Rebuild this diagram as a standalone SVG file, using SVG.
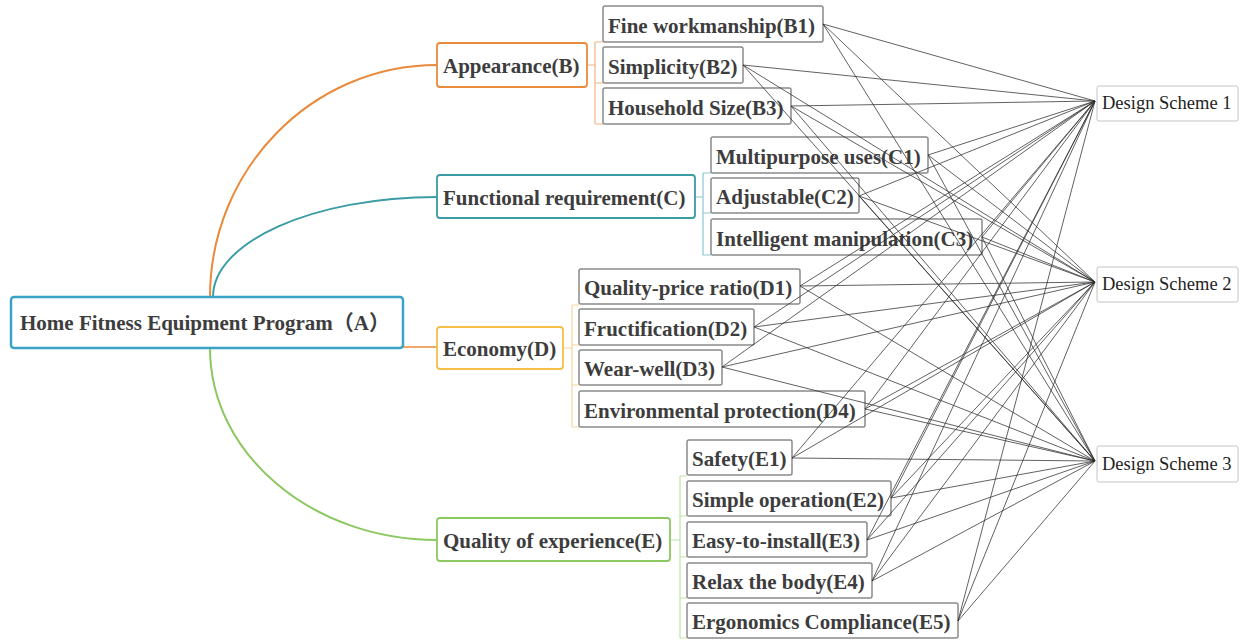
<svg xmlns="http://www.w3.org/2000/svg" width="1243" height="640" viewBox="0 0 1243 640">
<style>
.bg{fill:#ffffff}
.leaf{fill:#ffffff;stroke:#8a8a8a;stroke-width:1.5}
.t{font-family:"Liberation Serif","Noto Sans CJK SC",serif;font-weight:bold;font-size:21px;fill:#3d3d3d}
.ds{fill:#ffffff;stroke:#c4c4c4;stroke-width:1}
.dt{font-family:"Liberation Serif",serif;font-size:18.5px;fill:#1e1e1e}
.conn line{stroke:#2e2e2e;stroke-width:0.75}
.curve{fill:none;stroke-width:2}
.br{fill:none;stroke-width:1.2}
</style>
<rect class="bg" x="0" y="0" width="1243" height="640"/>

<g id="branch-links">
<path class="curve" d="M210,297 C210,169 312,65 437,65" stroke="#e98a3c"/>
<path class="curve" d="M213,297 C213,242 313,197 437,197" stroke="#3a9ca4"/>
<path class="curve" d="M403,347 H437" stroke="#f0a868"/>
<path class="curve" d="M210,348 C210,454 312,540 437,540" stroke="#8cc860"/>
<path class="br" stroke="#f0b482" d="M587,65 H595 M595,42 V124 M595,42 H603 M595,83 H603 M595,124 H603"/>
<path class="br" stroke="#8cc6cc" d="M695,197 H703 M703,173 V255 M703,173 H711 M703,213 H711 M703,255 H711"/>
<path class="br" stroke="#f5d6a0" d="M563,348 H572 M572,305 V427 M572,305 H579 M572,345 H579 M572,385 H579 M572,427 H579"/>
<path class="br" stroke="#bfe2a8" d="M670,540 H680 M680,476 V638 M680,476 H687 M680,516 H687 M680,557 H687 M680,598 H687 M680,638 H687"/>
</g>

<g id="A">
<rect x="11" y="297" width="392" height="51" rx="3" fill="#ffffff" stroke="#3aa2c6" stroke-width="2.5"/>
<text class="t" x="20" y="330">Home Fitness Equipment Program（A）</text>
</g>

<g id="B">
<rect x="437" y="43" width="150" height="44" rx="3" fill="#ffffff" stroke="#e98a3c" stroke-width="1.8"/>
<text class="t" x="443" y="73">Appearance(B)</text>
</g>
<g id="C">
<rect x="437" y="175" width="258" height="43" rx="3" fill="#ffffff" stroke="#3a9ca4" stroke-width="1.8"/>
<text class="t" x="443" y="205">Functional requirement(C)</text>
</g>
<g id="D">
<rect x="437" y="327" width="126" height="42" rx="3" fill="#ffffff" stroke="#f3bf4a" stroke-width="1.8"/>
<text class="t" x="443" y="356">Economy(D)</text>
</g>
<g id="E">
<rect x="437" y="518" width="233" height="43" rx="3" fill="#ffffff" stroke="#8cc860" stroke-width="1.8"/>
<text class="t" x="443" y="548">Quality of experience(E)</text>
</g>

<g id="B1"><rect class="leaf" x="603" y="6" width="220" height="36" rx="2"/><text class="t" x="608" y="33">Fine workmanship(B1)</text></g>
<g id="B2"><rect class="leaf" x="603" y="47" width="140" height="36" rx="2"/><text class="t" x="608" y="74">Simplicity(B2)</text></g>
<g id="B3"><rect class="leaf" x="603" y="88" width="188" height="36" rx="2"/><text class="t" x="608" y="115">Household Size(B3)</text></g>

<g id="C1"><rect class="leaf" x="711" y="137" width="217" height="36" rx="2"/><text class="t" x="716" y="164">Multipurpose uses(C1)</text></g>
<g id="C2"><rect class="leaf" x="711" y="178" width="148" height="35" rx="2"/><text class="t" x="716" y="204">Adjustable(C2)</text></g>
<g id="C3"><rect class="leaf" x="711" y="219" width="271" height="36" rx="2"/><text class="t" x="716" y="246">Intelligent manipulation(C3)</text></g>

<g id="D1"><rect class="leaf" x="579" y="269" width="221" height="35" rx="2"/><text class="t" x="584" y="295">Quality-price ratio(D1)</text></g>
<g id="D2"><rect class="leaf" x="579" y="309" width="175" height="36" rx="2"/><text class="t" x="584" y="336">Fructification(D2)</text></g>
<g id="D3"><rect class="leaf" x="579" y="350" width="143" height="35" rx="2"/><text class="t" x="584" y="376">Wear-well(D3)</text></g>
<g id="D4"><rect class="leaf" x="579" y="391" width="286" height="36" rx="2"/><text class="t" x="584" y="418">Environmental protection(D4)</text></g>

<g id="E1"><rect class="leaf" x="687" y="440" width="105" height="35" rx="2"/><text class="t" x="692" y="466">Safety(E1)</text></g>
<g id="E2"><rect class="leaf" x="687" y="481" width="204" height="35" rx="2"/><text class="t" x="692" y="507">Simple operation(E2)</text></g>
<g id="E3"><rect class="leaf" x="687" y="522" width="180" height="35" rx="2"/><text class="t" x="692" y="548">Easy-to-install(E3)</text></g>
<g id="E4"><rect class="leaf" x="687" y="563" width="185" height="35" rx="2"/><text class="t" x="692" y="589">Relax the body(E4)</text></g>
<g id="E5"><rect class="leaf" x="687" y="603" width="271" height="35" rx="2"/><text class="t" x="692" y="629">Ergonomics Compliance(E5)</text></g>

<g id="DS1"><rect class="ds" x="1097" y="86" width="141" height="35" rx="2"/><text class="dt" x="1102" y="109">Design Scheme 1</text></g>
<g id="DS2"><rect class="ds" x="1097" y="267" width="141" height="35" rx="2"/><text class="dt" x="1102" y="290">Design Scheme 2</text></g>
<g id="DS3"><rect class="ds" x="1097" y="446" width="141" height="36" rx="2"/><text class="dt" x="1102" y="470">Design Scheme 3</text></g>

<g id="connectors" class="conn">
<line x1="823" y1="24" x2="1095" y2="101"/><line x1="823" y1="24" x2="1095" y2="282"/><line x1="823" y1="24" x2="1095" y2="461"/>
<line x1="743" y1="65" x2="1095" y2="101"/><line x1="743" y1="65" x2="1095" y2="282"/><line x1="743" y1="65" x2="1095" y2="461"/>
<line x1="791" y1="106" x2="1095" y2="101"/><line x1="791" y1="106" x2="1095" y2="282"/><line x1="791" y1="106" x2="1095" y2="461"/>
<line x1="928" y1="155" x2="1095" y2="101"/><line x1="928" y1="155" x2="1095" y2="282"/><line x1="928" y1="155" x2="1095" y2="461"/>
<line x1="859" y1="196" x2="1095" y2="101"/><line x1="859" y1="196" x2="1095" y2="282"/><line x1="859" y1="196" x2="1095" y2="461"/>
<line x1="982" y1="237" x2="1095" y2="101"/><line x1="982" y1="237" x2="1095" y2="282"/><line x1="982" y1="237" x2="1095" y2="461"/>
<line x1="800" y1="286" x2="1095" y2="101"/><line x1="800" y1="286" x2="1095" y2="282"/><line x1="800" y1="286" x2="1095" y2="461"/>
<line x1="754" y1="327" x2="1095" y2="101"/><line x1="754" y1="327" x2="1095" y2="282"/><line x1="754" y1="327" x2="1095" y2="461"/>
<line x1="722" y1="367" x2="1095" y2="101"/><line x1="722" y1="367" x2="1095" y2="282"/><line x1="722" y1="367" x2="1095" y2="461"/>
<line x1="865" y1="409" x2="1095" y2="101"/><line x1="865" y1="409" x2="1095" y2="282"/><line x1="865" y1="409" x2="1095" y2="461"/>
<line x1="792" y1="458" x2="1095" y2="101"/><line x1="792" y1="458" x2="1095" y2="282"/><line x1="792" y1="458" x2="1095" y2="461"/>
<line x1="891" y1="498" x2="1095" y2="101"/><line x1="891" y1="498" x2="1095" y2="282"/><line x1="891" y1="498" x2="1095" y2="461"/>
<line x1="867" y1="540" x2="1095" y2="101"/><line x1="867" y1="540" x2="1095" y2="282"/><line x1="867" y1="540" x2="1095" y2="461"/>
<line x1="872" y1="581" x2="1095" y2="101"/><line x1="872" y1="581" x2="1095" y2="282"/><line x1="872" y1="581" x2="1095" y2="461"/>
<line x1="958" y1="621" x2="1095" y2="101"/><line x1="958" y1="621" x2="1095" y2="282"/><line x1="958" y1="621" x2="1095" y2="461"/>
</g>
</svg>
